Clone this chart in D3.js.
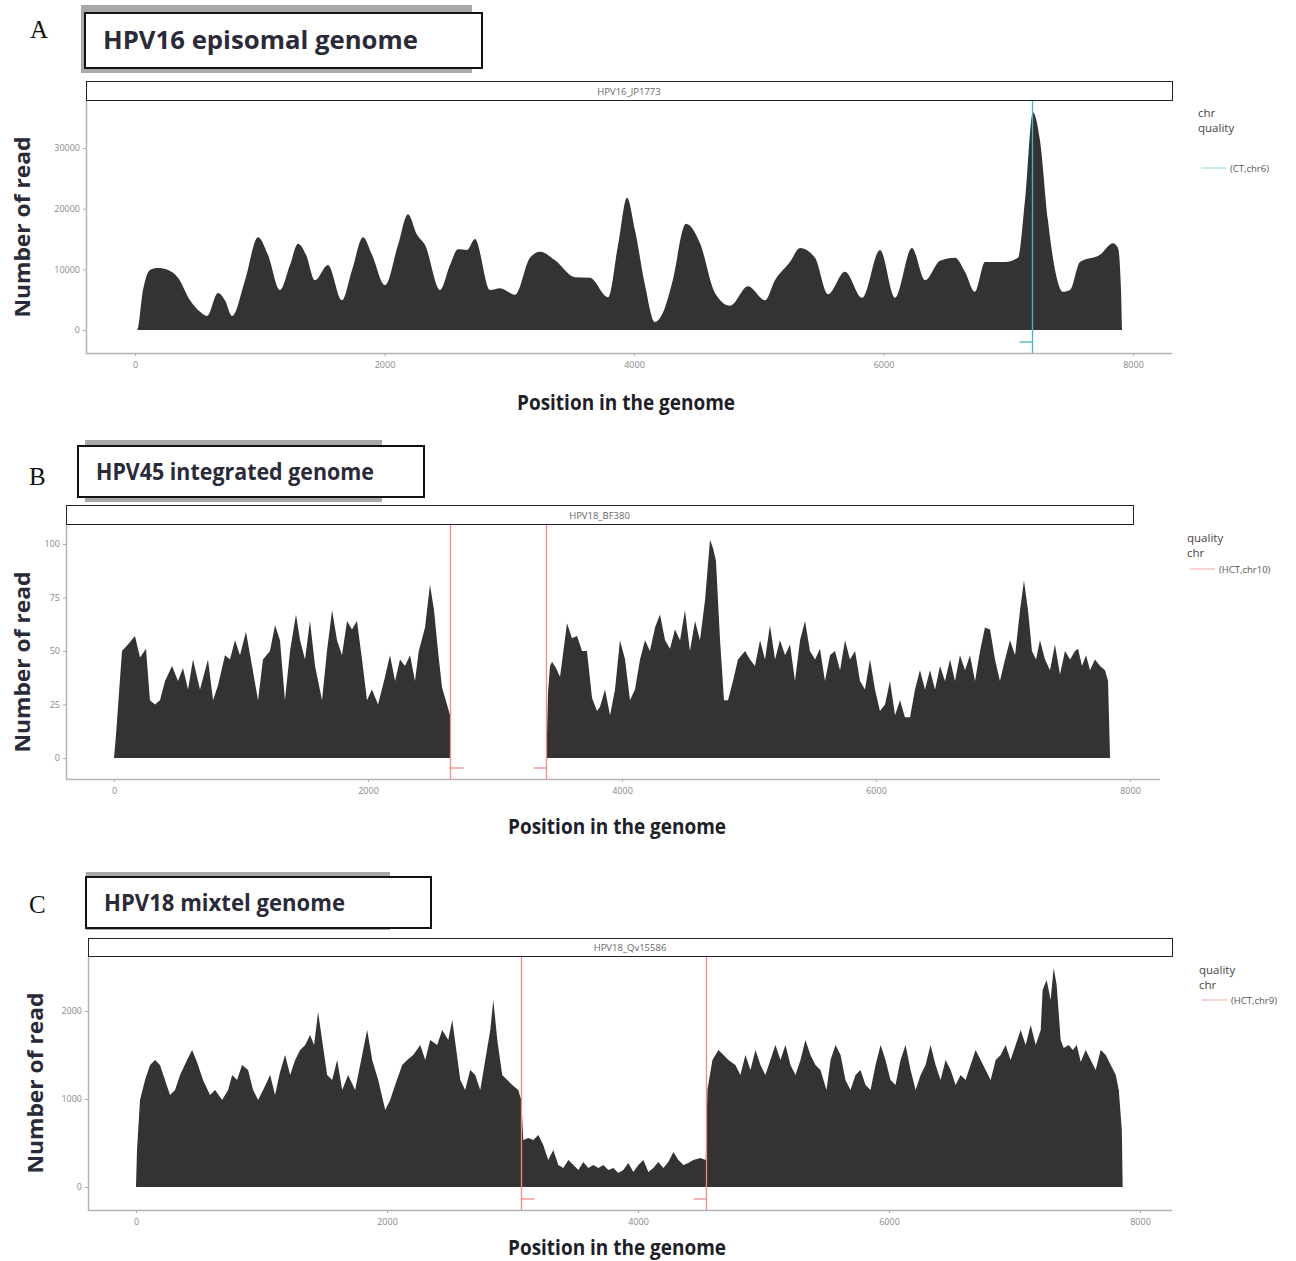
<!DOCTYPE html>
<html>
<head>
<meta charset="utf-8">
<script src="https://cdn.jsdelivr.net/npm/d3@7"></script>
<style>
body { margin: 0; background: #fff; }
svg { display: block; }
</style>
</head>
<body>
<script>
var hpv16Cov = [[0,0],[16,0],[64,6600],[120,9900],[184,10200],[265,9900],[345,8600],[441,4900],[521,3000],[577,2300],[665,6100],[721,4900],[778,2300],[882,8200],[986,15300],[1066,12400],[1162,6600],[1242,10700],[1307,14200],[1371,12400],[1443,8200],[1547,10700],[1659,4900],[1740,9900],[1828,15300],[1900,12400],[2004,7400],[2108,14000],[2188,19100],[2261,15700],[2325,14000],[2445,6600],[2525,10700],[2589,13300],[2661,13200],[2725,15000],[2846,6600],[2926,6900],[3046,5800],[3166,11900],[3246,12900],[3367,11500],[3527,8700],[3647,8600],[3792,5400],[3872,14000],[3944,21800],[4008,16500],[4088,7400],[4168,1300],[4224,2500],[4305,7700],[4417,17500],[4529,14300],[4649,6100],[4770,4000],[4914,7200],[5050,4900],[5130,8200],[5250,11200],[5331,13500],[5451,11900],[5555,5900],[5691,9600],[5828,5300],[5972,13200],[6092,5300],[6228,13500],[6333,8200],[6453,11400],[6573,11900],[6653,9600],[6733,6300],[6814,11200],[6974,11200],[7078,11900],[7134,21400],[7198,35900],[7254,31300],[7318,18100],[7375,9900],[7439,6300],[7495,6600],[7575,11200],[7735,12400],[7840,14300],[7880,13500],[7904,6600],[7912,0]];

var hpv45CovLeft = [[0,0],[16,11],[63,50],[110,53],[165,57],[205,47],[252,51],[283,27],[323,25],[362,27],[402,36],[457,43],[504,36],[543,42],[583,32],[622,46],[677,32],[740,46],[780,27],[819,34],[874,48],[913,46],[953,55],[992,48],[1039,59],[1087,43],[1134,27],[1173,46],[1228,50],[1268,62],[1307,55],[1346,27],[1386,50],[1433,67],[1465,55],[1504,46],[1543,64],[1583,43],[1638,27],[1677,50],[1717,69],[1756,55],[1795,48],[1835,64],[1874,60],[1913,64],[1953,46],[1992,27],[2031,32],[2079,25],[2126,36],[2173,48],[2213,36],[2252,46],[2291,43],[2331,48],[2370,36],[2400,50],[2449,61],[2488,81],[2520,69],[2551,50],[2583,33],[2622,25],[2646,20],[2652,0]];

var hpv45CovRight = [[3405,0],[3417,30],[3433,43],[3449,45],[3480,42],[3512,38],[3567,63],[3606,56],[3646,57],[3685,50],[3724,50],[3764,28],[3803,22],[3827,24],[3866,32],[3906,20],[3945,32],[3984,55],[4024,46],[4063,27],[4102,32],[4142,46],[4181,55],[4220,50],[4260,61],[4299,67],[4339,55],[4378,51],[4417,60],[4457,55],[4496,69],[4535,50],[4575,64],[4614,55],[4654,74],[4693,102],[4717,98],[4740,92],[4772,55],[4803,27],[4835,27],[4874,36],[4913,46],[4969,50],[5008,46],[5047,43],[5087,55],[5126,46],[5165,62],[5205,46],[5244,55],[5284,48],[5323,53],[5362,36],[5402,55],[5441,64],[5480,50],[5520,46],[5559,51],[5598,36],[5638,48],[5677,50],[5717,41],[5756,55],[5795,46],[5835,50],[5874,36],[5913,32],[5953,46],[5992,32],[6031,22],[6071,25],[6110,36],[6150,20],[6189,27],[6228,19],[6268,19],[6307,32],[6346,41],[6386,32],[6425,41],[6465,32],[6504,43],[6543,36],[6583,46],[6622,36],[6661,48],[6701,41],[6740,48],[6780,36],[6819,50],[6858,61],[6898,60],[6937,46],[6976,36],[7016,46],[7055,55],[7095,48],[7134,69],[7165,83],[7197,69],[7228,50],[7260,46],[7291,55],[7331,46],[7370,41],[7409,53],[7449,39],[7488,50],[7528,46],[7567,50],[7591,51],[7622,43],[7654,48],[7685,41],[7724,46],[7764,43],[7803,41],[7827,36],[7843,0]];

var hpv18Cov = [[0,0],[8,420],[32,990],[72,1215],[112,1386],[152,1443],[191,1386],[231,1215],[271,1045],[311,1102],[351,1272],[407,1443],[447,1556],[486,1420],[534,1215],[590,1045],[630,1102],[686,990],[734,1102],[766,1272],[805,1215],[845,1386],[893,1329],[933,1102],[973,990],[1013,1102],[1069,1272],[1108,1045],[1148,1306],[1188,1500],[1228,1272],[1268,1443],[1308,1556],[1348,1613],[1387,1727],[1419,1613],[1451,1988],[1483,1670],[1523,1272],[1563,1215],[1603,1443],[1643,1102],[1690,1272],[1746,1102],[1802,1500],[1842,1784],[1882,1443],[1930,1215],[1986,875],[2025,990],[2065,1159],[2121,1386],[2161,1443],[2209,1500],[2265,1613],[2305,1443],[2344,1670],[2400,1613],[2440,1784],[2488,1670],[2520,1897],[2552,1556],[2584,1215],[2623,1102],[2663,1329],[2703,1272],[2743,1102],[2783,1443],[2823,1784],[2847,2124],[2879,1670],[2918,1272],[2958,1215],[2998,1159],[3046,1102],[3070,990],[3086,534],[3126,557],[3166,534],[3206,591],[3245,477],[3285,307],[3325,420],[3365,250],[3405,216],[3445,307],[3485,250],[3525,193],[3564,284],[3604,216],[3644,250],[3684,216],[3724,250],[3764,193],[3804,216],[3843,159],[3883,193],[3923,273],[3963,170],[4003,250],[4043,307],[4083,170],[4122,216],[4162,284],[4202,216],[4242,284],[4282,398],[4322,307],[4362,250],[4401,273],[4441,307],[4497,329],[4540,307],[4553,1102],[4593,1443],[4641,1556],[4681,1500],[4720,1443],[4776,1386],[4816,1272],[4856,1500],[4896,1329],[4936,1556],[4976,1386],[5015,1272],[5055,1443],[5095,1613],[5135,1443],[5175,1613],[5215,1386],[5255,1272],[5295,1443],[5334,1670],[5374,1500],[5414,1386],[5454,1329],[5502,1102],[5534,1443],[5574,1613],[5614,1500],[5653,1215],[5693,1102],[5733,1272],[5773,1329],[5813,1159],[5853,1102],[5893,1386],[5933,1613],[5972,1443],[6012,1215],[6052,1159],[6092,1443],[6132,1613],[6172,1329],[6212,1102],[6252,1272],[6291,1386],[6331,1613],[6371,1386],[6411,1215],[6451,1443],[6491,1329],[6531,1159],[6571,1272],[6610,1215],[6650,1386],[6690,1556],[6730,1443],[6770,1329],[6810,1215],[6850,1443],[6890,1500],[6929,1613],[6969,1443],[7009,1613],[7049,1784],[7089,1613],[7129,1840],[7169,1613],[7209,1784],[7224,2238],[7256,2352],[7288,2124],[7312,2488],[7336,2295],[7368,1670],[7392,1579],[7432,1613],[7464,1556],[7496,1613],[7528,1420],[7567,1556],[7607,1443],[7647,1329],[7687,1556],[7727,1500],[7767,1386],[7807,1272],[7831,1102],[7855,648],[7862,0]];

// integration / break points
var hpv16Breaks = [7190];
var hpv45Breaks = [2646, 3402];
var hpv18Breaks = [3070, 4545];

var xTicks = [0, 2000, 4000, 6000, 8000];
var hpv16YTicks = [0, 10000, 20000, 30000];
var hpv45YTicks = [0, 25, 50, 75, 100];
var hpv18YTicks = [0, 1000, 2000];

var panels = [
  { letter: "A", title: "HPV16 episomal genome", strip: "HPV16_JP1773",
    series: [hpv16Cov], breaks: hpv16Breaks, yTicks: hpv16YTicks, yMax: 30000,
    lineColor: "#45b8b8", keyColor: "#aee6e6", legend: ["chr", "quality"], key: "(CT,chr6)",
    left: 86, right: 1172, axisRight: 1172, stripTop: 81, stripBot: 100, bottom: 353,
    x0: 135, x8000: 1133, y0: 330, yTop: 148,
    titleBox: [85, 13, 397, 55], shadow: [81, 5, 391, 68], letterPos: [30, 38],
    titleW: 315, titleSize: 25,
    legendX: 1198, legendY: 117, keyY: 168, yLabX: 22, yLabY: 227, xLabY: 410, xLabX: 626 },
  { letter: "B", title: "HPV45 integrated genome", strip: "HPV18_BF380",
    series: [hpv45CovLeft, hpv45CovRight], breaks: hpv45Breaks, yTicks: hpv45YTicks, yMax: 100,
    lineColor: "#f28c8c", keyColor: "#f8c4c4", legend: ["quality", "chr"], key: "(HCT,chr10)",
    left: 66, right: 1133, axisRight: 1160, stripTop: 505, stripBot: 524, bottom: 779,
    x0: 114, x8000: 1130, y0: 758, yTop: 544,
    titleBox: [78, 446, 346, 51], shadow: [85, 440, 297, 62], letterPos: [29, 485],
    titleW: 278, titleSize: 23,
    legendX: 1187, legendY: 542, keyY: 569, yLabX: 22, yLabY: 662, xLabY: 834, xLabX: 617 },
  { letter: "C", title: "HPV18 mixtel genome", strip: "HPV18_Qv15586",
    series: [hpv18Cov], breaks: hpv18Breaks, yTicks: hpv18YTicks, yMax: 2000,
    lineColor: "#f28c8c", keyColor: "#f8c4c4", legend: ["quality", "chr"], key: "(HCT,chr9)",
    left: 88, right: 1172, axisRight: 1172, stripTop: 938, stripBot: 956, bottom: 1210,
    x0: 136, x8000: 1140, y0: 1187, yTop: 1011,
    titleBox: [86, 877, 345, 51], shadow: [86, 872, 304, 58], letterPos: [29, 913],
    titleW: 241, titleSize: 23,
    legendX: 1199, legendY: 974, keyY: 1000, yLabX: 35, yLabY: 1083, xLabY: 1255, xLabX: 617 }
];

var svg = d3.select("body").append("svg")
  .attr("width", 1296)
  .attr("height", 1261);

panels.forEach(function (p) {
  var g = svg.append("g");

  var x = d3.scaleLinear().domain([0, 8000]).range([p.x0, p.x8000]);
  var y = d3.scaleLinear().domain([0, p.yMax]).range([p.y0, p.yTop]);

  // title box with its shadow
  g.append("rect")
    .attr("x", p.shadow[0]).attr("y", p.shadow[1])
    .attr("width", p.shadow[2]).attr("height", p.shadow[3])
    .attr("fill", "#a8a8a8");
  g.append("rect")
    .attr("x", p.titleBox[0]).attr("y", p.titleBox[1])
    .attr("width", p.titleBox[2]).attr("height", p.titleBox[3])
    .attr("fill", "#fff").attr("stroke", "#111").attr("stroke-width", 2);
  g.append("text")
    .attr("x", p.titleBox[0] + 18).attr("y", p.titleBox[1] + p.titleBox[3] / 2 + 8)
    .attr("font-family", "'Open Sans', sans-serif")
    .attr("font-weight", "bold").attr("font-size", p.titleSize)
    .attr("textLength", p.titleW).attr("lengthAdjust", "spacingAndGlyphs")
    .attr("fill", "#2a2a38")
    .text(p.title);
  g.append("text")
    .attr("x", p.letterPos[0]).attr("y", p.letterPos[1])
    .attr("font-family", "'Liberation Serif', serif")
    .attr("font-size", 25).attr("fill", "#111")
    .text(p.letter);

  // facet strip
  g.append("rect")
    .attr("x", p.left + 0.5).attr("y", p.stripTop + 0.5)
    .attr("width", p.right - p.left).attr("height", p.stripBot - p.stripTop)
    .attr("fill", "#fff").attr("stroke", "#222").attr("stroke-width", 1);
  g.append("text")
    .attr("x", (p.left + p.right) / 2).attr("y", p.stripBot - 5)
    .attr("text-anchor", "middle")
    .attr("font-family", "'Open Sans', sans-serif").attr("font-size", 9.5)
    .attr("fill", "#666")
    .text(p.strip);

  // coverage areas
  var area = d3.area()
    .x(function (d) { return x(d[0]); })
    .y0(y(0))
    .y1(function (d) { return y(d[1]); })
    .curve(p.letter === "A" ? d3.curveMonotoneX : d3.curveLinear);
  p.series.forEach(function (s) {
    g.append("path").datum(s).attr("d", area).attr("fill", "#333333");
  });

  // axes
  var xAxis = d3.axisBottom(x).tickValues(xTicks).tickFormat(d3.format("d")).tickSize(3).tickPadding(6);
  var yAxis = d3.axisLeft(y).tickValues(p.yTicks).tickFormat(d3.format("d")).tickSize(3).tickPadding(3);

  var gx = g.append("g")
    .attr("transform", "translate(0," + p.bottom + ")")
    .call(xAxis);
  var gy = g.append("g")
    .attr("transform", "translate(" + p.left + ",0)")
    .call(yAxis);
  [gx, gy].forEach(function (ax) {
    ax.select(".domain").remove();
    ax.selectAll(".tick line").attr("stroke", "#aaa");
    ax.selectAll(".tick text")
      .attr("fill", "#888")
      .attr("font-family", "'Open Sans', sans-serif")
      .attr("font-size", 9);
  });
  g.append("line")
    .attr("x1", p.left).attr("x2", p.axisRight)
    .attr("y1", p.bottom + 0.5).attr("y2", p.bottom + 0.5)
    .attr("stroke", "#b5b5b5").attr("stroke-width", 1.5);
  g.append("line")
    .attr("x1", p.left + 0.5).attr("x2", p.left + 0.5)
    .attr("y1", p.stripBot + 1).attr("y2", p.bottom + 1)
    .attr("stroke", "#b5b5b5").attr("stroke-width", 1.5);

  // break point lines with small end ticks
  p.breaks.forEach(function (b, i) {
    var bx = Math.round(x(b)) + 0.5;
    g.append("line")
      .attr("x1", bx).attr("x2", bx)
      .attr("y1", p.stripBot + 1).attr("y2", p.bottom)
      .attr("stroke", p.lineColor).attr("stroke-width", 1.3);
    var dir = (p.breaks.length === 1) ? -1 : (i === 0 ? 1 : -1);
    var ty = p.bottom - 11;
    g.append("line")
      .attr("x1", bx).attr("x2", bx + dir * 13)
      .attr("y1", ty).attr("y2", ty)
      .attr("stroke", p.lineColor).attr("stroke-width", 1.3);
  });

  // legend
  p.legend.forEach(function (t, i) {
    g.append("text")
      .attr("x", p.legendX).attr("y", p.legendY + i * 15)
      .attr("font-family", "'Open Sans', sans-serif").attr("font-size", 11.5)
      .attr("fill", "#444")
      .text(t);
  });
  g.append("line")
    .attr("x1", p.legendX + 3).attr("x2", p.legendX + 28)
    .attr("y1", p.keyY).attr("y2", p.keyY)
    .attr("stroke", p.keyColor).attr("stroke-width", 1.5);
  g.append("text")
    .attr("x", p.legendX + 32).attr("y", p.keyY + 3.5)
    .attr("font-family", "'Open Sans', sans-serif").attr("font-size", 9.5)
    .attr("fill", "#555")
    .text(p.key);

  // axis titles
  g.append("text")
    .attr("x", p.xLabX).attr("y", p.xLabY)
    .attr("text-anchor", "middle")
    .attr("font-family", "'Open Sans', sans-serif")
    .attr("font-weight", "bold").attr("font-size", 22)
    .attr("textLength", 218).attr("lengthAdjust", "spacingAndGlyphs")
    .attr("fill", "#1e1e28")
    .text("Position in the genome");
  g.append("text")
    .attr("transform", "translate(" + (p.yLabX + 8) + "," + p.yLabY + ") rotate(-90)")
    .attr("text-anchor", "middle")
    .attr("font-family", "'Open Sans', sans-serif")
    .attr("font-weight", "bold").attr("font-size", 21)
    .attr("textLength", 181).attr("lengthAdjust", "spacingAndGlyphs")
    .attr("fill", "#2a2a38")
    .text("Number of read");
});
</script>
</body>
</html>
